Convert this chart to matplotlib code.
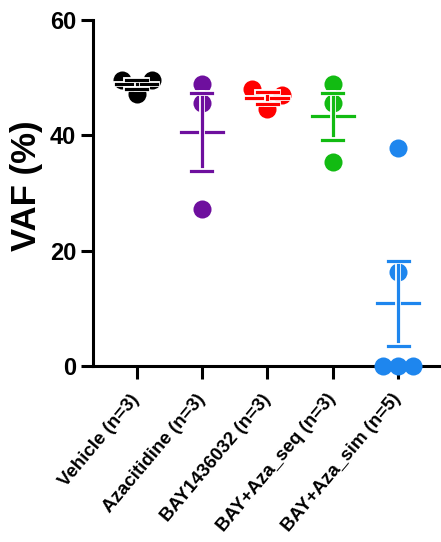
import matplotlib
import matplotlib.pyplot as plt
import matplotlib.patheffects as pe
import numpy as np

matplotlib.use('Agg')

plt.rcParams['font.family'] = ['Liberation Sans Narrow', 'Liberation Sans', 'DejaVu Sans']
plt.rcParams['font.weight'] = 'bold'

groups = ['Vehicle (n=3)', 'Azacitidine (n=3)', 'BAY1436032 (n=3)',
          'BAY+Aza_seq (n=3)', 'BAY+Aza_sim (n=5)']
colors = ['#000000', '#6E0F9E', '#FF0000', '#12BB12', '#1E86EE']

vehicle = [49.7, 49.7, 47.2]
azacitidine = [49.0, 45.6, 27.2]
bay = [48.1, 47.0, 44.6]
bay_aza_seq = [49.0, 45.6, 35.3]
bay_aza_sim = [37.8, 16.3, 0.0, 0.0, 0.0]
values = [vehicle, azacitidine, bay, bay_aza_seq, bay_aza_sim]


def swarm_offsets(vals, ax, row_px=14, step_px=15):
    # rough prism-like layout: bin close values into rows, spread each row
    p0 = ax.transData.transform((0, 0))
    p1 = ax.transData.transform((1, 1))
    sx, sy = p1 - p0
    vals = np.asarray(vals, dtype=float)
    order = np.argsort(-vals, kind='stable')
    offs = np.zeros(len(vals))
    rows = []
    for i in order:
        if rows and (vals[rows[-1][0]] - vals[i]) * sy < row_px:
            rows[-1].append(i)
        else:
            rows.append([i])
    for row in rows:
        n = len(row)
        if n == 1:
            slots = [0]
        elif n % 2 == 0:
            slots = [s for s in range(-(n // 2), n // 2 + 1) if s != 0]
        else:
            slots = list(range(-(n // 2), n // 2 + 1))
        for i, s in zip(row, slots):
            offs[i] = s * step_px / sx
    return offs


fig = plt.figure(figsize=(4.41, 5.42), dpi=100)
ax = fig.add_axes([0.2102, 0.3253, 0.7875, 0.6373])
ax.set_xlim(-0.67, 4.64)
ax.set_ylim(0, 60)

outline = [pe.withStroke(linewidth=4.2, foreground='white')]
for i, (vals, c) in enumerate(zip(values, colors)):
    offs = swarm_offsets(vals, ax)
    ax.plot(i + offs, vals, 'o', color=c, markersize=13, markeredgewidth=0,
            clip_on=False, zorder=3)
    m = np.mean(vals)
    sem = np.std(vals, ddof=1) / np.sqrt(len(vals))
    kw = dict(color=c, linewidth=2.3, zorder=4, path_effects=outline)
    ax.plot([i - 0.32, i + 0.32], [m, m], **kw)
    ax.plot([i, i], [m - sem, m + sem], **kw)
    ax.plot([i - 0.16, i + 0.16], [m + sem, m + sem], **kw)
    ax.plot([i - 0.16, i + 0.16], [m - sem, m - sem], **kw)

for s in ['top', 'right']:
    ax.spines[s].set_visible(False)
for s in ['left', 'bottom']:
    ax.spines[s].set_linewidth(2.2)

ax.set_yticks([0, 20, 40, 60])
ax.set_xticks(range(len(groups)))
ax.set_xticklabels(groups, rotation=50, ha='right', va='center',
                   rotation_mode='anchor', fontsize=13.5, fontweight='bold')
ax.tick_params(axis='both', width=2.2, length=9, direction='out')
ax.tick_params(axis='y', labelsize=17, pad=3)
ax.tick_params(axis='x', pad=13)
for lbl in ax.get_yticklabels():
    lbl.set_fontweight('bold')

ax.text(-0.19, 0.52, 'VAF (%)', rotation=90, ha='center', va='center',
        fontsize=25, fontweight='bold', transform=ax.transAxes)

fig.savefig('out.png', dpi=100)
